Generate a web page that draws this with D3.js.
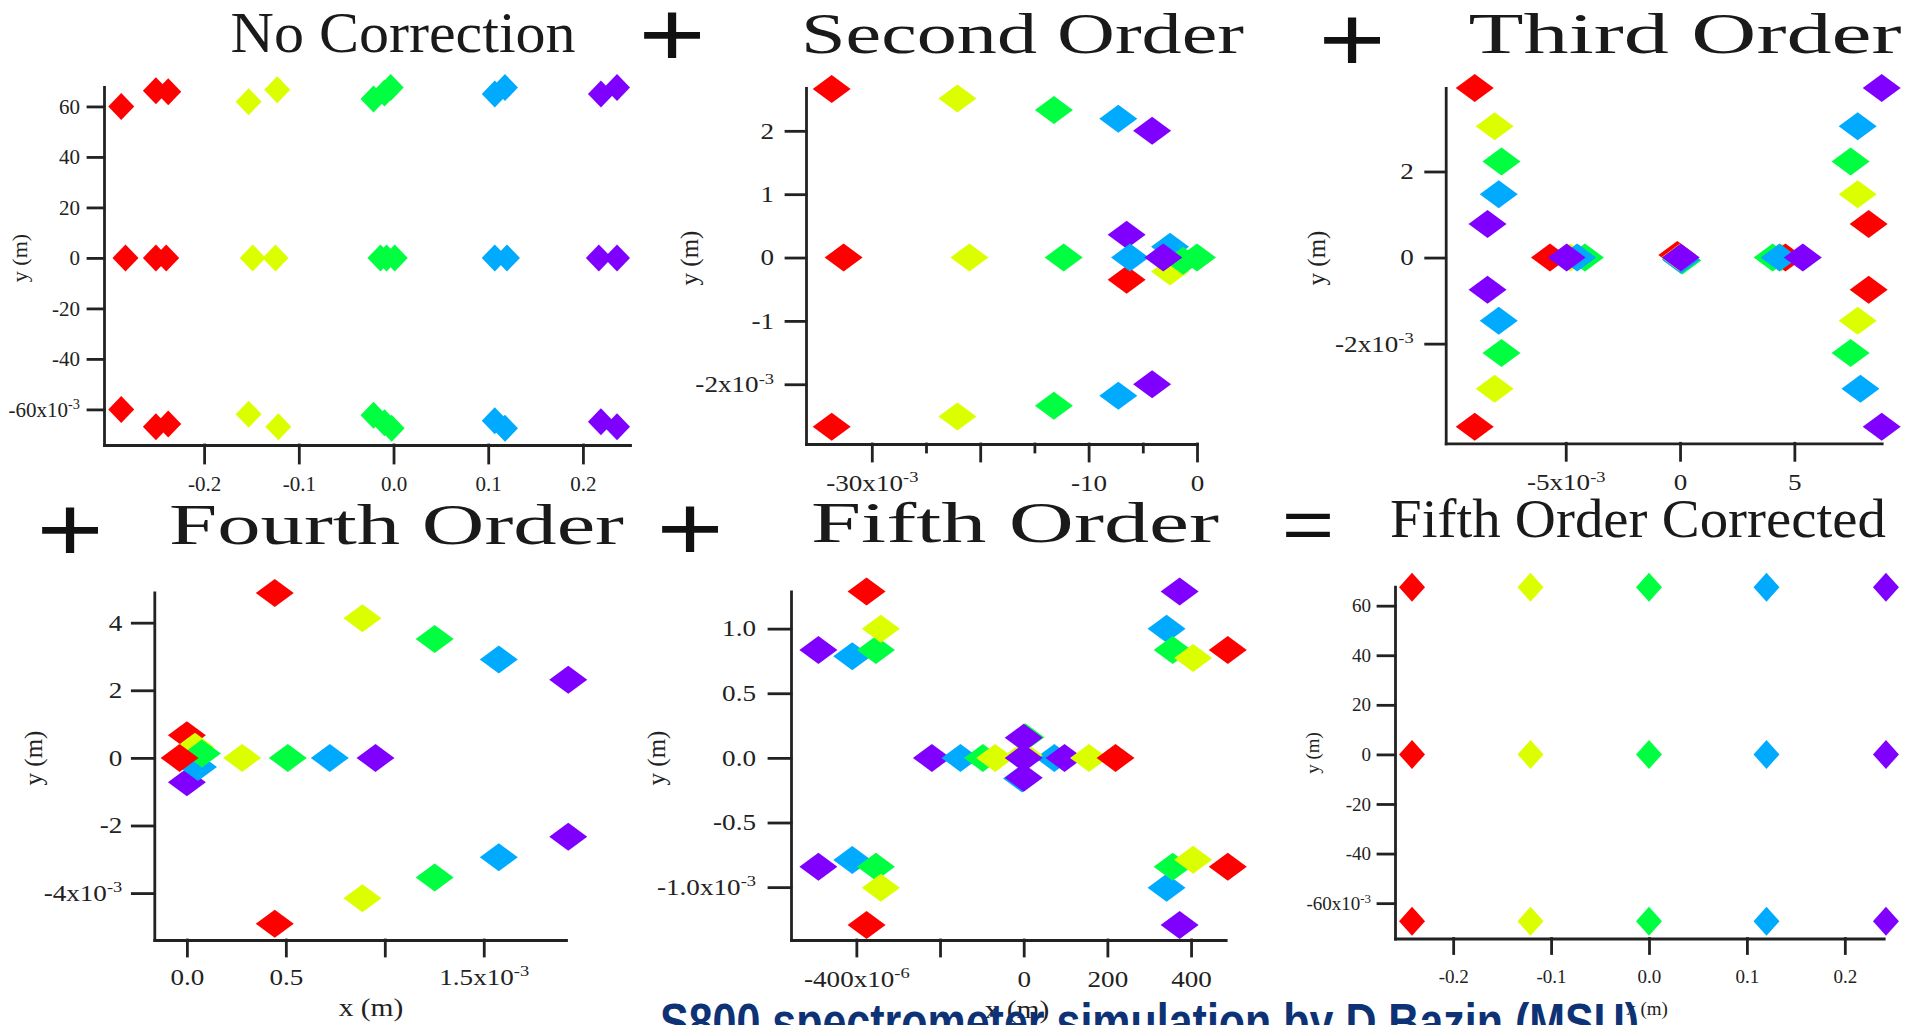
<!DOCTYPE html>
<html><head><meta charset="utf-8">
<script src="https://cdn.jsdelivr.net/npm/d3@7"></script>
<style>body{margin:0;background:#fff;overflow:hidden}svg{display:block}</style>
</head><body>
<svg id="chart" width="1909" height="1025"></svg>
<script>
// ---------------- DATA ----------------
const colorHex = ["#ff0000", "#dcff00", "#00ff40", "#00aaff", "#7f00ff"]; // red, yellow, green, blue, purple

// Panel 1: No Correction (x in m, y in 1e-3 m)
const p1X = [-0.2875,-0.2509,-0.2379,-0.283,-0.2509,-0.240,-0.2875,-0.2509,-0.2379,
             -0.153,-0.1228,-0.1487,-0.1246,-0.153,-0.1216,
             -0.0211,-0.0095,-0.003,-0.0138,-0.0073,0.0013,-0.0211,-0.0095,-0.002,
             0.1069,0.1177,0.1069,0.1198,0.1069,0.1177,
             0.219,0.236,0.2168,0.236,0.219,0.236];
const p1Y = [60.0,66.2,65.8,0,0,0,-60.0,-66.9,-65.8,
             61.9,66.6,0,0,-61.9,-66.9,
             62.9,65.3,67.5,0,0,0,-62.3,-65.3,-67.5,
             64.9,67.5,0,0,-64.5,-67.5,
             64.9,67.5,0,0,-64.9,-66.9];
const p1C = [0,0,0,0,0,0,0,0,0, 1,1,1,1,1,1, 2,2,2,2,2,2,2,2,2, 3,3,3,3,3,3, 4,4,4,4,4,4];

// Panel 2: Second Order (x in 1e-3 m, y in 1e-3 m)
const p2X = [-33.7,-22.1,-13.2,-7.26,-4.14, -33.7,-22.1,-13.2,-7.26,-4.14,
             -32.6,-21.0,-12.3,-6.49,-6.49,-6.18,-2.49,-2.49,-1.29,0.0,-3.11];
const p2Y = [2.66,2.51,2.33,2.19,2.0, -2.67,-2.51,-2.34,-2.18,-2.0,
             0,0,0,-0.35,0.36,0,-0.22,0.17,-0.05,0,0];
const p2C = [0,1,2,3,4, 0,1,2,3,4, 0,1,2,0,4,3,1,3,2,2,4];

// Panel 3: Third Order
const p3X = [-8.98,-8.11,-7.81,-7.93,-8.42,-8.42,-7.93,-7.81,-8.11,-8.98,
             8.82,7.77,7.46,7.77,8.25,8.25,7.77,7.46,7.89,8.82,
             -5.69,-4.8,-4.16,-4.5,-4.96,
             -0.12,0.1,0.04,0.0,0.03,
             4.05,4.44,4.61,4.35,5.37];
const p3Y = [3.94,3.05,2.23,1.47,0.78,-0.75,-1.47,-2.22,-3.05,-3.93,
             3.94,3.05,2.23,1.47,0.78,-0.75,-1.47,-2.22,-3.05,-3.93,
             0,0,0,0,0,
             0.06,-0.07,-0.05,0,0,
             0,0,0,0,0];
const p3C = [0,1,2,3,4,4,3,2,1,0,
             4,3,2,1,0,0,1,2,3,4,
             0,1,2,3,4,
             0,2,3,1,4,
             2,1,0,3,4];

// Panel 4: Fourth Order
const p4X = [0.444,0.887,1.252,1.576,1.927, 0.444,0.887,1.252,1.576,1.927,
             0.0,0.0,0.056,0.041,0.076,-0.037,0.279,0.51,0.722,0.953];
const p4Y = [4.88,4.13,3.52,2.91,2.31, -4.91,-4.15,-3.54,-2.94,-2.33,
             0.67,-0.72,-0.27,0.33,0.13,0,0,0,0,0];
const p4C = [0,1,2,3,4, 0,1,2,3,4, 0,4,3,1,2,0,1,2,3,4];

// Panel 5: Fifth Order (x in 1e-6 m, y in 1e-3 m)
const p5X = [-409.8,-353.2,-341.5,-490.7,-375.6,
             -409.8,-353.2,-341.5,-490.7,-375.6,
             341.5,356.1,404.9,487.8,372.7,
             341.5,356.1,404.9,487.8,372.7,
             -219.5,-151.2,-97.6,-68.3,
             73.2,97.6,156.1,219.5,
             4,-4,0,0,0,0];
const p5Y = [0.786,0.834,1.0,0.834,1.287,
             -0.791,-0.842,-1.005,-0.842,-1.292,
             1.0,0.834,0.772,0.834,1.287,
             -1.005,-0.842,-0.788,-0.842,-1.292,
             0,0,0,0,
             0,0,0,0,
             0.16,-0.16,0.02,0.156,-0.153,0];
const p5C = [3,2,1,4,0, 3,2,1,4,0, 3,2,1,0,4, 3,2,1,0,4,
             4,3,2,1, 3,4,1,0, 2,3,1,4,4,4];

// Panel 6: Fifth Order Corrected
const p6X = [-0.242,-0.121,0.0,0.120,0.242, -0.242,-0.121,0.0,0.120,0.242, -0.242,-0.121,0.0,0.120,0.242];
const p6Y = [67.4,67.4,67.4,67.4,67.4, 0,0,0,0,0, -67.3,-67.3,-67.3,-67.3,-67.3];
const p6C = [0,1,2,3,4, 0,1,2,3,4, 0,1,2,3,4];

// Tick values / labels
const p1XTicks = [-0.2,-0.1,0,0.1,0.2], p1XLabels = ["-0.2","-0.1","0.0","0.1","0.2"];
const p1YTicks = [60,40,20,0,-20,-40,-60], p1YLabels = ["60","40","20","0","-20","-40","-60x10^-3"];
const p2XTicks = [-30,-20,-10,0], p2XLabels = ["-30x10^-3","","-10","0"], p2XMinor = [-25,-15,-5];
const p2YTicks = [2,1,0,-1,-2], p2YLabels = ["2","1","0","-1","-2x10^-3"];
const p3XTicks = [-5,0,5], p3XLabels = ["-5x10^-3","0","5"];
const p3YTicks = [2,0,-2], p3YLabels = ["2","0","-2x10^-3"];
const p4XTicks = [0,0.5,1.0,1.5], p4XLabels = ["0.0","0.5","","1.5x10^-3"];
const p4YTicks = [4,2,0,-2,-4], p4YLabels = ["4","2","0","-2","-4x10^-3"];
const p5XTicks = [-400,-200,0,200,400], p5XLabels = ["-400x10^-6","","0","200","400"];
const p5YTicks = [1.0,0.5,0,-0.5,-1.0], p5YLabels = ["1.0","0.5","0.0","-0.5","-1.0x10^-3"];
const p6XTicks = [-0.2,-0.1,0,0.1,0.2], p6XLabels = ["-0.2","-0.1","0.0","0.1","0.2"];
const p6YTicks = [60,40,20,0,-20,-40,-60], p6YLabels = ["60","40","20","0","-20","-40","-60x10^-3"];

const titles = ["No Correction","Second Order","Third Order","Fourth Order","Fifth Order","Fifth Order Corrected"];
const operators = ["+","+","+","+","="];
const footer = "S800 spectrometer simulation by D.Bazin (MSU)";

// ---------------- RENDER ----------------
const svg = d3.select("#chart");
const SERIF = "'Liberation Serif','Times New Roman',serif";
const AXC = "#222";

function sup(sel){
  sel.each(function(){
    const t = d3.select(this); const s = t.text();
    if (s.includes("^")) {
      const [a,b] = s.split("^");
      t.text(null);
      t.append("tspan").text(a);
      t.append("tspan").attr("dy","-0.55em").attr("font-size","0.68em").text(b);
    }
  });
}

function drawPanel(c, xs, ys, cs){
  const g = svg.append("g");
  const x = d3.scaleLinear().domain(c.xDomain).range([c.left, c.right]);
  const y = d3.scaleLinear().domain(c.yDomain).range([c.bottom, c.top]);
  const k = c.stretch || 1;

  const styleAxis = a => {
    a.attr("font-family", SERIF).attr("font-size", c.font);
    a.selectAll("path,line").attr("stroke", AXC).attr("stroke-width", 2.8).attr("stroke-linecap","square");
    a.selectAll("text").attr("fill", "#222");
  };

  if (c.xMinor) {
    const m = g.append("g").attr("transform", `translate(0,${c.bottom})`)
      .call(d3.axisBottom(x).tickValues(c.xMinor).tickFormat("").tickSize(c.minorLen).tickSizeOuter(0));
    m.select(".domain").remove();
    styleAxis(m);
  }
  const xa = g.append("g").attr("transform", `translate(0,${c.bottom})`)
    .call(d3.axisBottom(x).tickValues(c.xTicks).tickFormat((d,i)=>c.xLabels[i]).tickSize(c.xTickLen).tickSizeOuter(0));
  styleAxis(xa);
  xa.selectAll("text").attr("y", c.xLabelOff).attr("dy", null).attr("transform", `scale(${k},1)`).call(sup);

  const ya = g.append("g").attr("transform", `translate(${c.left},0)`)
    .call(d3.axisLeft(y).tickValues(c.yTicks).tickFormat((d,i)=>c.yLabels[i]).tickSize(c.yTickLen).tickPadding(c.yPad).tickSizeOuter(0));
  styleAxis(ya);
  ya.selectAll("text").attr("x", -(c.yTickLen + c.yPad) / k).attr("transform", `scale(${k},1)`).call(sup);

  // axis titles
  g.append("text").attr("transform", `translate(${c.ylab[0]},${c.ylab[1]}) rotate(-90)`)
    .attr("text-anchor","middle").attr("dominant-baseline","central")
    .attr("font-family", SERIF).attr("font-size", c.labFont).attr("fill","#222").text("y (m)");
  if (c.xlab) {
    g.append("text").attr("transform", `translate(${c.xlab[0]},${c.xlab[1]}) scale(${k},1)`)
      .attr("text-anchor","middle").attr("dominant-baseline","central")
      .attr("font-family", SERIF).attr("font-size", c.labFont).attr("fill","#222").text("x (m)");
  }

  // diamonds
  const pts = xs.map((v,i)=>({x:v, y:ys[i], c:cs[i]}));
  g.append("g").selectAll("path").data(pts).join("path")
    .attr("d", d => {
      const px = x(d.x), py = y(d.y);
      return `M${px},${py-c.mh}L${px+c.mw},${py}L${px},${py+c.mh}L${px-c.mw},${py}Z`;
    })
    .attr("fill", d => colorHex[d.c]);
}

const panels = [
  {left:104, right:630, top:87, bottom:445, xDomain:[-0.3057,0.2497], yDomain:[-74.1,67.7],
   xTicks:p1XTicks, xLabels:p1XLabels, yTicks:p1YTicks, yLabels:p1YLabels,
   xTickLen:18, yTickLen:16, yPad:8, xLabelOff:46, font:21, mw:13, mh:13.5, ylab:[19,258], labFont:22},
  {left:806, right:1197, top:88, bottom:444, xDomain:[-36.07,0], yDomain:[-2.943,2.676],
   xTicks:p2XTicks, xLabels:p2XLabels, xMinor:p2XMinor, minorLen:8, yTicks:p2YTicks, yLabels:p2YLabels,
   xTickLen:17, yTickLen:20, yPad:12, xLabelOff:47, font:23, stretch:1.18, mw:19, mh:14, ylab:[689,258], labFont:25},
  {left:1445.7, right:1881.7, top:88, bottom:443.3, xDomain:[-10.25,8.82], yDomain:[-4.316,3.94],
   xTicks:p3XTicks, xLabels:p3XLabels, yTicks:p3YTicks, yLabels:p3YLabels,
   xTickLen:17, yTickLen:20, yPad:12, xLabelOff:47, font:23, stretch:1.18, mw:19, mh:14, ylab:[1316,258], labFont:25},
  {left:154.3, right:566, top:592.5, bottom:940, xDomain:[-0.1647,1.9156], yDomain:[-5.388,4.893],
   xTicks:p4XTicks, xLabels:p4XLabels, yTicks:p4YTicks, yLabels:p4YLabels,
   xTickLen:16, yTickLen:22, yPad:10, xLabelOff:45, font:23, stretch:1.18, mw:19, mh:14, ylab:[33,758], xlab:[371,1008], labFont:25},
  {left:791, right:1225.7, top:591.4, bottom:940, xDomain:[-556.2,482.8], yDomain:[-1.409,1.288],
   xTicks:p5XTicks, xLabels:p5XLabels, yTicks:p5YTicks, yLabels:p5YLabels,
   xTickLen:16, yTickLen:22, yPad:13, xLabelOff:47, font:23, stretch:1.18, mw:19, mh:14, ylab:[656,758], xlab:[1017,1010], labFont:25},
  {left:1395, right:1883.7, top:586.6, bottom:938.5, xDomain:[-0.2594,0.2397], yDomain:[-74.26,67.69],
   xTicks:p6XTicks, xLabels:p6XLabels, yTicks:p6YTicks, yLabels:p6YLabels,
   xTickLen:15, yTickLen:17, yPad:7, xLabelOff:44, font:19, mw:13, mh:14.5, ylab:[1312,753], xlab:[1647,1008], labFont:19}
];
const data = [[p1X,p1Y,p1C],[p2X,p2Y,p2C],[p3X,p3Y,p3C],[p4X,p4Y,p4C],[p5X,p5Y,p5C],[p6X,p6Y,p6C]];
panels.forEach((c,i)=>drawPanel(c, ...data[i]));

// titles
const titlePos = [
  {x:230.6, y:52, w:345, size:58},
  {x:801, y:53, w:443, size:58},
  {x:1468.5, y:53, w:433, size:58},
  {x:169, y:544, w:455, size:58},
  {x:811, y:542, w:408, size:58},
  {x:1390, y:537, w:496, size:55}
];
svg.append("g").selectAll("text").data(titles).join("text")
  .attr("x",(d,i)=>titlePos[i].x).attr("y",(d,i)=>titlePos[i].y)
  .attr("font-family",SERIF).attr("font-size",(d,i)=>titlePos[i].size)
  .attr("textLength",(d,i)=>titlePos[i].w).attr("lengthAdjust","spacingAndGlyphs")
  .attr("fill","#1a1a1a").text(d=>d);

// operators
const opPos = [[672,34,92],[1352,39,92],[70,529,92],[690,528,92],[1308,524,72]];
svg.append("g").selectAll("text").data(operators).join("text")
  .attr("transform",(d,i)=>`translate(${opPos[i][0]},${opPos[i][1]}) scale(1.25,1)`)
  .attr("text-anchor","middle").attr("dominant-baseline","central")
  .attr("font-family","'Liberation Sans',Arial,sans-serif").attr("font-size",(d,i)=>opPos[i][2])
  .attr("fill","#111").text(d=>d);

// footer (cut off at bottom edge as in the reference)
svg.append("text").attr("x",660).attr("y",1040)
  .attr("font-family","'Liberation Sans',Arial,sans-serif").attr("font-weight","bold")
  .attr("font-size",51).attr("textLength",979).attr("lengthAdjust","spacingAndGlyphs")
  .attr("fill","#0d3275").text(footer);
</script>
</body></html>
